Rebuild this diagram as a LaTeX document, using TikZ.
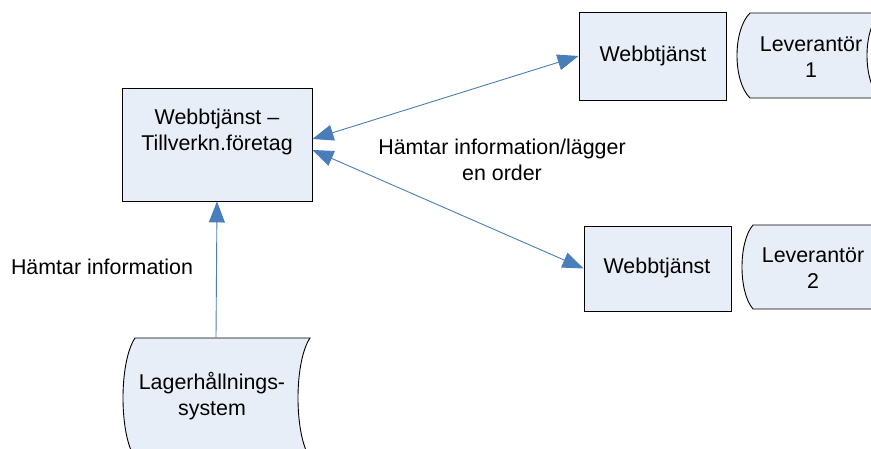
\documentclass[tikz,border=0pt]{standalone}
\usepackage{fontspec}
\setmainfont{Liberation Sans}
\usetikzlibrary{arrows.meta,calc}
\definecolor{fillb}{HTML}{E8EEF7}
\definecolor{arrb}{HTML}{4A7EBB}
\newcommand\storeddata[5]{%
  \path[sdshape] (#1,#3) -- (#2,#3)
    .. controls ({#2-4/3*#5},{#3+0.2*(#4-#3)}) and ({#2-4/3*#5},{#4-0.2*(#4-#3)}) .. (#2,#4)
    -- (#1,#4)
    .. controls ({#1-4/3*#5},{#4-0.2*(#4-#3)}) and ({#1-4/3*#5},{#3+0.2*(#4-#3)}) .. (#1,#3) -- cycle;}
\tikzset{bigtip/.tip={Triangle[length=21pt,width=16pt,fill=arrb]}}
\begin{document}
\begin{tikzpicture}[x=1pt,y=-1pt,
  sdshape/.style={draw=black, line width=0.9pt, fill=fillb},
  box/.style={sdshape, inner sep=0},
  ghost/.style={inner sep=0},
  lbl/.style={font=\fontsize{21.4}{25.5}\selectfont, align=center, inner sep=0},
  conn/.style={draw=arrb, line width=0.9pt},
]
\useasboundingbox (0,0) rectangle (871,448);
\clip (0,0) rectangle (871,448);
\fill[white] (0,0) rectangle (871,448);

% boxes
\node[box, minimum width=190, minimum height=113] (A) at (217,144.5) {};
\node[box, minimum width=147, minimum height=88] (B) at (652.5,56) {};
\node[box, minimum width=147, minimum height=85] (C) at (657.5,268.5) {};

% stored data shapes
\storeddata{135}{310}{338}{458}{12}
\storeddata{750}{880}{13}{98}{13}
\storeddata{753}{885}{225}{309}{11}
\node[ghost, minimum width=187, minimum height=120] (L) at (216,398) {};
\node[ghost, minimum width=143, minimum height=85] (V1) at (808,55.5) {};
\node[ghost, minimum width=143, minimum height=84] (V2) at (813,267) {};

% texts
\node[lbl] (tA) at (217,132) {Webbtjänst –\\Tillverkn.företag};
\node[lbl] (tB) at (653,56) {Webbtjänst};
\node[lbl] (tC) at (657,268) {Webbtjänst};
\node[lbl] (tV1) at (811,57) {Leverantör\\1};
\node[lbl] (tV2) at (813,268) {Leverantör\\2};
\node[lbl] (tL) at (212,396) {Lagerhållnings-\\system};
\node[lbl] (l1) at (502,160) {Hämtar information/lägger\\en order};
\node[lbl] (l2) at (102,267) {Hämtar information};

% connectors
\draw[conn, -{bigtip}] (L.north) -- (A.south);
\draw[conn, {bigtip}-{bigtip}] ([yshift=5.5pt]A.east) -- (B.west);
\draw[conn, {bigtip}-{bigtip}] ([yshift=-5.5pt]A.east) -- (C.west);
\end{tikzpicture}
\end{document}
